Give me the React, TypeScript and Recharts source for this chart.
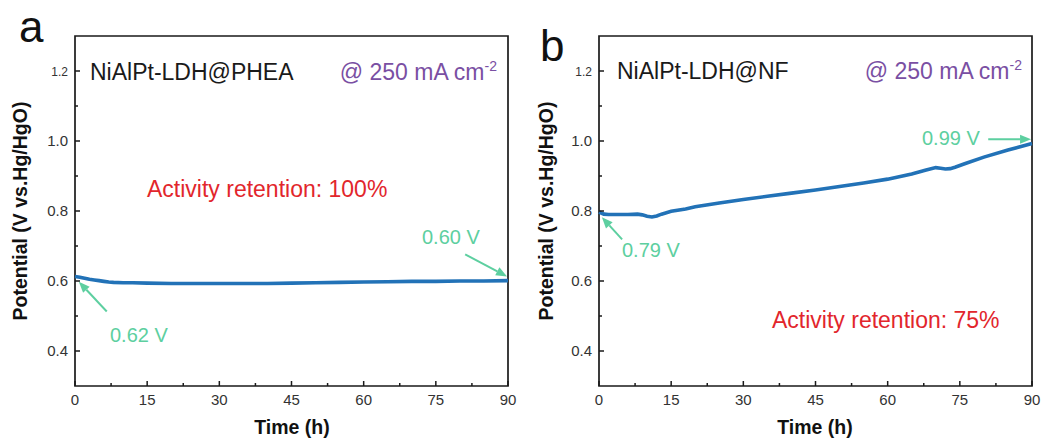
import React from 'react';
import { LineChart, Line, XAxis, YAxis, ReferenceArea, ReferenceLine } from 'recharts';

// ---- data ----
const timeA = [0, 1, 2, 3, 4, 5, 6, 7, 8, 10, 12, 15, 20, 25, 30, 35, 40, 45, 50, 55, 60, 65, 70, 75, 80, 85, 90];
const potentialA = [0.613, 0.611, 0.608, 0.605, 0.603, 0.601, 0.599, 0.597, 0.596, 0.595, 0.595, 0.594, 0.593, 0.593, 0.593, 0.593, 0.593, 0.594, 0.595, 0.596, 0.597, 0.598, 0.599, 0.599, 0.600, 0.600, 0.601];

const timeB = [0, 1, 2, 4, 6, 8, 9, 10, 11, 12, 13, 15, 18, 20, 25, 30, 35, 40, 45, 50, 55, 60, 65, 68, 70, 71, 72, 73, 74, 76, 80, 85, 90];
const potentialB = [0.797, 0.791, 0.790, 0.790, 0.790, 0.791, 0.789, 0.785, 0.783, 0.786, 0.791, 0.799, 0.806, 0.812, 0.823, 0.833, 0.842, 0.851, 0.860, 0.870, 0.880, 0.891, 0.906, 0.917, 0.924, 0.922, 0.920, 0.921, 0.925, 0.935, 0.954, 0.974, 0.993];

const xTicks = [0, 7.5, 15, 22.5, 30, 37.5, 45, 52.5, 60, 67.5, 75, 82.5, 90];
const yTicks = [0.4, 0.5, 0.6, 0.7, 0.8, 0.9, 1.0, 1.1, 1.2];

const tableA = timeA.map((t, i) => ({ t, v: potentialA[i] }));
const tableB = timeB.map((t, i) => ({ t, v: potentialB[i] }));

const FONT = "Arial, 'Liberation Sans', sans-serif";
const LINE_COLOR = '#2272b7';
const GREEN = '#5dcfa0';
const PURPLE = '#7a4fa3';
const RED = '#e2262c';
const AXIS = '#1a1a1a';

const XTick = (props: any) => {
  const { x, y, payload } = props;
  const v = payload.value;
  const major = v % 15 === 0;
  return (
    <g>
      <line x1={x} x2={x} y1={y} y2={y - (major ? 5 : 3)} stroke={AXIS} strokeWidth={1.5} />
      {major && (
        <text x={x} y={y + 19} textAnchor="middle" fontSize={15} fill="#333" fontFamily={FONT}>
          {v}
        </text>
      )}
    </g>
  );
};

const YTick = (props: any) => {
  const { x, y, payload } = props;
  const v = payload.value;
  const major = Math.round(v * 10) % 2 === 0;
  const small = Math.abs(v - 1.2) < 1e-6;
  return (
    <g>
      <line x1={x} x2={x + (major ? 5 : 3)} y1={y} y2={y} stroke={AXIS} strokeWidth={1.5} />
      {major && (
        <text x={x - 7} y={y + 5} textAnchor="end" fontSize={small ? 12 : 15} fill="#333" fontFamily={FONT}>
          {v.toFixed(1)}
        </text>
      )}
    </g>
  );
};

const Arrow = (props: any) => {
  const { x1, y1, x2, y2 } = props;
  const dx = x2 - x1;
  const dy = y2 - y1;
  const len = Math.sqrt(dx * dx + dy * dy) || 1;
  const ux = dx / len;
  const uy = dy / len;
  const hl = 11;
  const hw = 4.5;
  const bx = x2 - ux * hl;
  const by = y2 - uy * hl;
  const pts = `${x2},${y2} ${bx - uy * hw},${by + ux * hw} ${bx + uy * hw},${by - ux * hw}`;
  return (
    <g>
      <line x1={x1} y1={y1} x2={bx} y2={by} stroke={GREEN} strokeWidth={2} />
      <polygon points={pts} fill={GREEN} />
    </g>
  );
};

type PanelProps = {
  data: { t: number; v: number }[];
  marginLeft: number;
  arrows: { x: number; y: number }[][];
};

const Panel = ({ data, marginLeft, arrows }: PanelProps) => (
  <LineChart
    width={marginLeft + 60 + 433 + 12}
    height={443}
    data={data}
    margin={{ top: 36, right: 12, left: marginLeft, bottom: 27 }}
  >
    <XAxis
      dataKey="t"
      type="number"
      domain={[0, 90]}
      ticks={xTicks}
      interval={0}
      axisLine={false}
      tickLine={false}
      tickSize={0}
      tickMargin={0}
      height={30}
      tick={<XTick />}
    />
    <YAxis
      type="number"
      domain={[0.3, 1.3]}
      ticks={yTicks}
      interval={0}
      axisLine={false}
      tickLine={false}
      tickSize={0}
      tickMargin={0}
      width={60}
      tick={<YTick />}
      allowDataOverflow
    />
    <Line
      type="linear"
      dataKey="v"
      stroke={LINE_COLOR}
      strokeWidth={3.6}
      dot={false}
      isAnimationActive={false}
    />
    {arrows.map((seg, i) => (
      <ReferenceLine key={i} segment={seg} shape={<Arrow />} ifOverflow="visible" />
    ))}
    <ReferenceArea x1={0} x2={90} y1={0.3} y2={1.3} fill="none" fillOpacity={0} stroke={AXIS} strokeWidth={1.7} ifOverflow="visible" />
  </LineChart>
);

const arrowsA = [
  [{ x: 6.6, y: 0.513 }, { x: 0.8, y: 0.598 }],
  [{ x: 81.1, y: 0.676 }, { x: 89.8, y: 0.613 }],
];
const arrowsB = [
  [{ x: 4.8, y: 0.719 }, { x: 0.6, y: 0.782 }],
  [{ x: 80.9, y: 1.005 }, { x: 89.8, y: 1.005 }],
];

export default function App() {
  return (
    <div style={{ position: 'absolute', left: 0, top: 0, width: 1044, height: 443, background: '#fff', overflow: 'hidden' }}>
      <div style={{ position: 'absolute', left: 0, top: 0 }}>
        <Panel data={tableA} marginLeft={15} arrows={arrowsA} />
      </div>
      <div style={{ position: 'absolute', left: 520, top: 0 }}>
        <Panel data={tableB} marginLeft={19} arrows={arrowsB} />
      </div>
      <svg width={1044} height={443} style={{ position: 'absolute', left: 0, top: 0, pointerEvents: 'none' }} fontFamily={FONT}>
        <text x={19} y={42} fontSize={44} fill="#111">a</text>
        <text x={540} y={61} fontSize={44} fill="#111">b</text>

        <text x={90} y={80} fontSize={23} fill="#1a1a1a">NiAlPt-LDH@PHEA</text>
        <text x={497} y={80} fontSize={23} fill={PURPLE} textAnchor="end">
          @ 250 mA cm<tspan dy={-9} fontSize={14}>-2</tspan>
        </text>
        <text x={617} y={79} fontSize={23} fill="#1a1a1a">NiAlPt-LDH@NF</text>
        <text x={1022} y={79} fontSize={23} fill={PURPLE} textAnchor="end">
          @ 250 mA cm<tspan dy={-9} fontSize={14}>-2</tspan>
        </text>

        <text x={147} y={197} fontSize={23} fill={RED}>Activity retention: 100%</text>
        <text x={772} y={328} fontSize={23} fill={RED}>Activity retention: 75%</text>

        <text x={110} y={342} fontSize={20} fill={GREEN}>0.62 V</text>
        <text x={422} y={244} fontSize={20} fill={GREEN}>0.60 V</text>
        <text x={622} y={257} fontSize={20} fill={GREEN}>0.79 V</text>
        <text x={922} y={145} fontSize={20} fill={GREEN}>0.99 V</text>

        <text x={292} y={434} fontSize={19.5} fontWeight="bold" fill="#111" textAnchor="middle">Time (h)</text>
        <text x={815} y={434} fontSize={19.5} fontWeight="bold" fill="#111" textAnchor="middle">Time (h)</text>

        <text transform="translate(27,211) rotate(-90)" fontSize={19.5} fontWeight="bold" fill="#111" textAnchor="middle">Potential (V vs.Hg/HgO)</text>
        <text transform="translate(553,211) rotate(-90)" fontSize={19.5} fontWeight="bold" fill="#111" textAnchor="middle">Potential (V vs.Hg/HgO)</text>
      </svg>
    </div>
  );
}
